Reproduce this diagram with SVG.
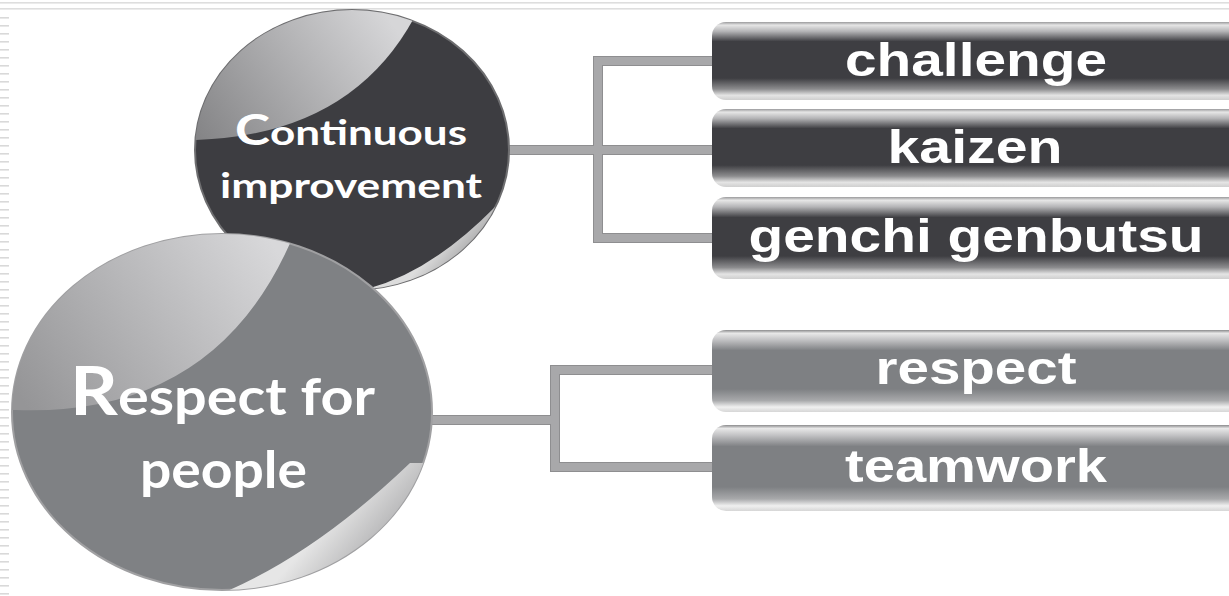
<svg xmlns="http://www.w3.org/2000/svg" width="1229" height="596" viewBox="0 0 1229 596">
  <style>
    .conn { fill: none; stroke: #a8a8aa; stroke-width: 8; stroke-linejoin: miter; }
    .conn-edge { fill: none; stroke: #8e8e90; stroke-width: 10; stroke-linejoin: miter; }
    .bar-text { font-family: "Liberation Sans", Arial, sans-serif; font-weight: bold; font-size: 46px; fill: #ffffff; text-anchor: middle; }
    .circle-text { font-family: Lato, "Open Sans", sans-serif; font-weight: bold; fill: #ffffff; }
  </style>
  <defs>
    <pattern id="ticks" width="9" height="8" patternUnits="userSpaceOnUse">
      <rect x="0" y="1" width="9" height="1.6" fill="#d9d9d9"/>
    </pattern>
    <linearGradient id="barDark" x1="0" y1="0" x2="0" y2="1">
      <stop offset="0" stop-color="#9a9a9c"/>
      <stop offset="0.04" stop-color="#e6e6e6"/>
      <stop offset="0.12" stop-color="#b4b4b6"/>
      <stop offset="0.25" stop-color="#3e3e42"/>
      <stop offset="0.72" stop-color="#3e3e42"/>
      <stop offset="0.86" stop-color="#8c8c8e"/>
      <stop offset="0.94" stop-color="#e4e4e4"/>
      <stop offset="1" stop-color="#cfcfcf"/>
    </linearGradient>
    <linearGradient id="barGrey" x1="0" y1="0" x2="0" y2="1">
      <stop offset="0" stop-color="#8a8a8c"/>
      <stop offset="0.04" stop-color="#e8e8e8"/>
      <stop offset="0.12" stop-color="#c2c2c4"/>
      <stop offset="0.25" stop-color="#7e8083"/>
      <stop offset="0.72" stop-color="#7e8083"/>
      <stop offset="0.86" stop-color="#a8a9ab"/>
      <stop offset="0.94" stop-color="#f0f0f0"/>
      <stop offset="1" stop-color="#d6d6d6"/>
    </linearGradient>
    <linearGradient id="gloss1" gradientUnits="userSpaceOnUse" x1="390" y1="20" x2="205" y2="145">
      <stop offset="0" stop-color="#d6d6d8"/>
      <stop offset="1" stop-color="#858587"/>
    </linearGradient>
    <linearGradient id="gloss2" gradientUnits="userSpaceOnUse" x1="270" y1="240" x2="25" y2="405">
      <stop offset="0" stop-color="#d8d8da"/>
      <stop offset="1" stop-color="#959597"/>
    </linearGradient>
    <linearGradient id="curl1" gradientUnits="userSpaceOnUse" x1="430" y1="255" x2="470" y2="290">
      <stop offset="0" stop-color="#dcdcdc"/>
      <stop offset="1" stop-color="#7e7e80"/>
    </linearGradient>
    <linearGradient id="curl2" gradientUnits="userSpaceOnUse" x1="315" y1="535" x2="380" y2="590">
      <stop offset="0" stop-color="#e6e6e6"/>
      <stop offset="1" stop-color="#9a9a9c"/>
    </linearGradient>
    <clipPath id="clip1"><ellipse cx="352" cy="150" rx="157" ry="140"/></clipPath>
    <clipPath id="clip2"><ellipse cx="222" cy="412" rx="210" ry="178"/></clipPath>
  </defs>

  <rect width="1229" height="596" fill="#ffffff"/>

  <!-- page frame: ruled lines along the top, tick marks down the left -->
  <g id="frame">
    <rect x="0" y="2" width="1229" height="1.6" fill="#dedede"/>
    <rect x="0" y="8" width="1229" height="1.6" fill="#dedede"/>
    <rect x="0" y="16" width="9" height="580" fill="url(#ticks)"/>
  </g>

  <g id="connectors">
    <path class="conn-edge" d="M505 150 H712 M712 61 H598 V238 H712"/>
    <path class="conn" d="M505 150 H712 M712 61 H598 V238 H712"/>
    <path class="conn-edge" d="M428 420 H555 M712 370 H555 V467 H712"/>
    <path class="conn" d="M428 420 H555 M712 370 H555 V467 H712"/>
  </g>

  <g id="node-continuous-improvement">
    <ellipse cx="352" cy="150" rx="157" ry="140" fill="#3d3d41" stroke="#6e6e70" stroke-width="2"/>
    <g clip-path="url(#clip1)">
      <path d="M196 140 Q350 135 414 18 L414 -10 L150 -10 L150 140 Z" fill="url(#gloss1)"/>
      <path d="M367 289 Q431 272 495 207 L560 207 L560 320 L367 320 Z" fill="url(#curl1)"/>
    </g>
    <text class="circle-text" x="235" y="145" textLength="232" lengthAdjust="spacingAndGlyphs"><tspan font-size="42">C</tspan><tspan font-size="35">ontinuous</tspan></text>
    <text class="circle-text" x="220" y="198" font-size="35" textLength="262" lengthAdjust="spacingAndGlyphs">improvement</text>
  </g>

  <g id="node-respect-for-people">
    <ellipse cx="222" cy="412" rx="210" ry="178" fill="#7f8184" stroke="#a0a0a2" stroke-width="2"/>
    <g clip-path="url(#clip2)">
      <path d="M16 410 Q218 417 294 234 L294 200 L-10 200 L-10 410 Z" fill="url(#gloss2)"/>
      <path d="M225 592 Q316 553 410 463 L450 463 L450 600 L225 600 Z" fill="url(#curl2)"/>
    </g>
    <text class="circle-text" x="70" y="415" textLength="305" lengthAdjust="spacingAndGlyphs"><tspan font-size="66">R</tspan><tspan font-size="51">espect for</tspan></text>
    <text class="circle-text" x="140" y="488" font-size="51" textLength="167" lengthAdjust="spacingAndGlyphs">people</text>
  </g>

  <g id="node-challenge">
    <rect x="712" y="22" width="560" height="78" rx="14" fill="url(#barDark)"/>
    <text class="bar-text" x="976" y="76" textLength="262" lengthAdjust="spacingAndGlyphs">challenge</text>
  </g>
  <g id="node-kaizen">
    <rect x="712" y="109" width="560" height="78" rx="14" fill="url(#barDark)"/>
    <text class="bar-text" x="975" y="163" textLength="175" lengthAdjust="spacingAndGlyphs">kaizen</text>
  </g>
  <g id="node-genchi-genbutsu">
    <rect x="712" y="197" width="560" height="82" rx="14" fill="url(#barDark)"/>
    <text class="bar-text" x="976" y="252" textLength="455" lengthAdjust="spacingAndGlyphs">genchi genbutsu</text>
  </g>
  <g id="node-respect">
    <rect x="712" y="330" width="560" height="82" rx="14" fill="url(#barGrey)"/>
    <text class="bar-text" x="976" y="384" textLength="201" lengthAdjust="spacingAndGlyphs">respect</text>
  </g>
  <g id="node-teamwork">
    <rect x="712" y="425" width="560" height="86" rx="14" fill="url(#barGrey)"/>
    <text class="bar-text" x="976" y="482" textLength="262" lengthAdjust="spacingAndGlyphs">teamwork</text>
  </g>
</svg>
